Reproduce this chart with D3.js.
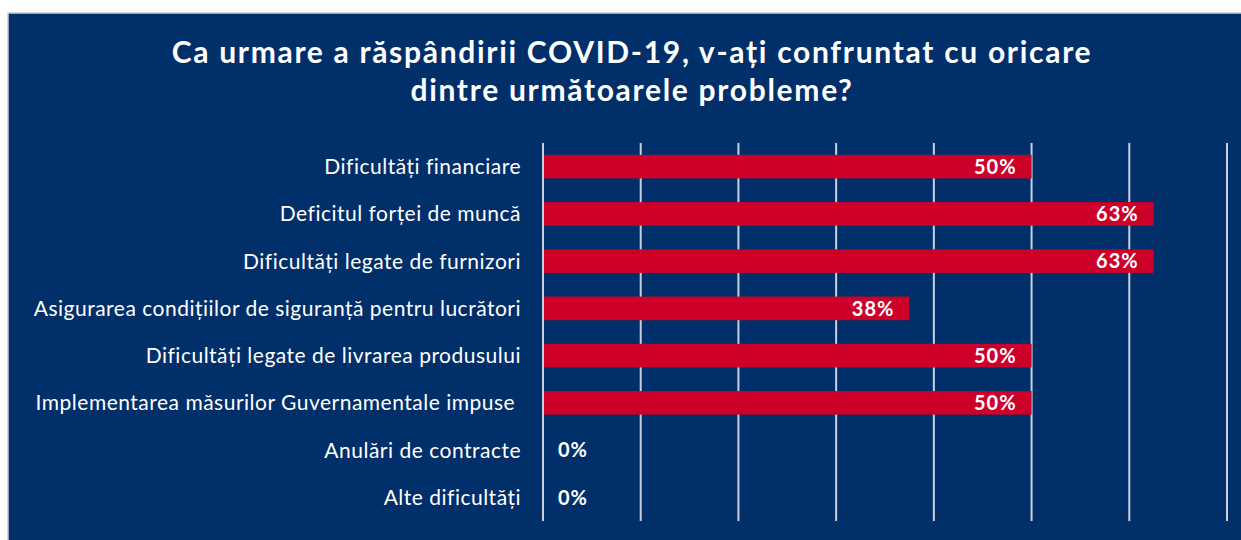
<!DOCTYPE html>
<html>
<head>
<meta charset="utf-8">
<script src="https://cdn.jsdelivr.net/npm/d3@7"></script>
<style>
  body { margin: 0; background: #fff; }
  svg { display: block; }
</style>
</head>
<body>
<svg width="1241" height="540"></svg>
<script>
// Categories and values (percent of respondents)
const categories = [
    "Dificultăți financiare",
    "Deficitul forței de muncă",
    "Dificultăți legate de furnizori",
    "Asigurarea condițiilor de siguranță pentru lucrători",
    "Dificultăți legate de livrarea produsului",
    "Implementarea măsurilor Guvernamentale impuse ",
    "Anulări de contracte",
    "Alte dificultăți"
];
const values = [50, 62.5, 62.5, 37.5, 50, 50, 0, 0];
const valueLabels = ["50%", "63%", "63%", "38%", "50%", "50%", "0%", "0%"];
const gridTicks = [0, 10, 20, 30, 40, 50, 60, 70];
const titleLines = [
    "Ca urmare a răspândirii COVID-19, v-ați confruntat cu oricare",
    "dintre următoarele probleme?"
];

const navy = "#002f6a";
const red = "#cc0029";
const font = "Lato, 'Open Sans', sans-serif";

const svg = d3.select("svg");

// panel
svg.append("rect")
    .attr("x", 8).attr("y", 13)
    .attr("width", 1241).attr("height", 540)
    .attr("fill", navy)
    .attr("stroke", "#c9ccd3")
    .attr("stroke-width", 1.5);

// title
svg.append("g")
    .selectAll("text")
    .data(titleLines)
    .join("text")
    .attr("x", 632)
    .attr("y", (d, i) => 63 + i * 38)
    .attr("text-anchor", "middle")
    .attr("fill", "#fff")
    .style("font", `bold 30px ${font}`)
    .style("letter-spacing", "1.7px")
    .text(d => d);

const x = d3.scaleLinear().domain([0, 70]).range([543, 1227]);
const y = d3.scaleBand().domain(categories).range([143, 521]).paddingInner(0.5).paddingOuter(0.25);

// grid
svg.append("g")
    .selectAll("line")
    .data(gridTicks)
    .join("line")
    .attr("x1", d => x(d)).attr("x2", d => x(d))
    .attr("y1", 143).attr("y2", 521)
    .attr("stroke", "#c7cfdc")
    .attr("stroke-width", 2);

// bars
svg.append("g")
    .selectAll("rect")
    .data(values)
    .join("rect")
    .attr("x", x(0) + 1)
    .attr("y", (d, i) => y(categories[i]))
    .attr("width", d => Math.max(0, x(d) - x(0) - 1))
    .attr("height", y.bandwidth())
    .attr("fill", red);

// value labels
svg.append("g")
    .selectAll("text")
    .data(values)
    .join("text")
    .attr("x", d => d > 0 ? x(d) - 15 : x(0) + 15)
    .attr("y", (d, i) => y(categories[i]) + y.bandwidth() / 2)
    .attr("dy", "0.36em")
    .attr("text-anchor", d => d > 0 ? "end" : "start")
    .attr("fill", "#fff")
    .style("font", `bold 20px ${font}`)
    .style("letter-spacing", "1px")
    .text((d, i) => valueLabels[i]);

// category labels (keep the trailing space of the original label)
svg.append("g")
    .selectAll("text")
    .data(categories)
    .join("text")
    .attr("x", 521)
    .attr("y", d => y(d) + y.bandwidth() / 2)
    .attr("dy", "0.36em")
    .attr("text-anchor", "end")
    .attr("fill", "#fff")
    .style("font", `21px ${font}`)
    .style("letter-spacing", "0.5px")
    .style("white-space", "pre")
    .text(d => d);
</script>
</body>
</html>
